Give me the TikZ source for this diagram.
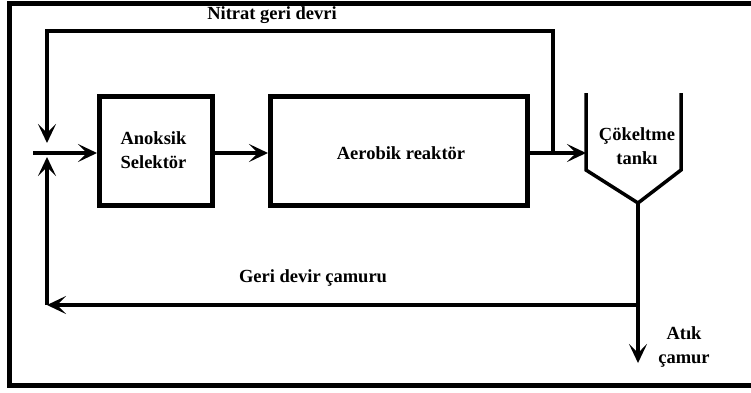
\documentclass[tikz,border=0pt]{standalone}
\usepackage{fontspec}
\setmainfont{Liberation Serif}
\usetikzlibrary{arrows.meta}
\begin{document}
\begin{tikzpicture}[x=1pt,y=-1pt,
  lbl/.style={font=\fontsize{18.5}{24}\selectfont\bfseries, inner sep=0pt, align=center},
  blk/.style={draw, line width=5pt, inner sep=0pt, anchor=north west},
  conn/.style={line width=3.5pt},
  arr/.style={conn, -{Stealth[length=19pt,width=18pt,inset=9pt]}}]
\useasboundingbox (0,0) rectangle (751,392);
% outer frame (open at right)
\draw[line width=5pt] (751,3.5) -- (9,3.5) -- (9,385) -- (751,385);
% blocks
\node[blk, minimum width=113pt, minimum height=109pt] (anox) at (97,94) {};
\node[blk, minimum width=257pt, minimum height=109pt] (aero) at (268,94) {};
\node[lbl] at (153.5,150) {Anoksik\\Selektör};
\node[lbl] at (401,153) {Aerobik reaktör};
% settling tank
\coordinate (tl) at (586,93);
\coordinate (tin) at (586,153);
\coordinate (tcl) at (586,170);
\coordinate (tb) at (638,203);
\coordinate (tcr) at (681,170);
\coordinate (tr) at (681,93);
\draw[conn, line join=miter] (tl) -- (tcl) -- (tb) -- (tcr) -- (tr);
\node[lbl] (tank) at (637,146) {Çökeltme\\tankı};
% coordinates
\coordinate (in) at (33,153);
\coordinate (aout) at (530,153);
\coordinate (nt) at (553,153);
\coordinate (ntu) at (553,31);
\coordinate (ntl) at (47,31);
\coordinate (mixa) at (47,143);
\coordinate (mixb) at (47,157);
\coordinate (ret) at (638,305);
\coordinate (retl) at (47,305);
\coordinate (waste) at (638,363);
% connectors
\draw[arr] (in) -- (anox.west |- in);
\draw[arr] (anox.east |- in) -- (aero.west |- in);
\draw[arr] (aout) -- (tin);
\draw[arr] (nt) -- (ntu) -- (ntl) -- (mixa);
\draw[arr] (tb) -- (waste);
\draw[arr] (ret) -- (retl);
\draw[arr] (retl) -- (mixb);
% labels
\node[lbl] at (272,15) {Nitrat geri devri};
\node[lbl] at (313,278) {Geri devir çamuru};
\node[lbl] at (684,347) {Atık\\çamur};
\end{tikzpicture}
\end{document}
